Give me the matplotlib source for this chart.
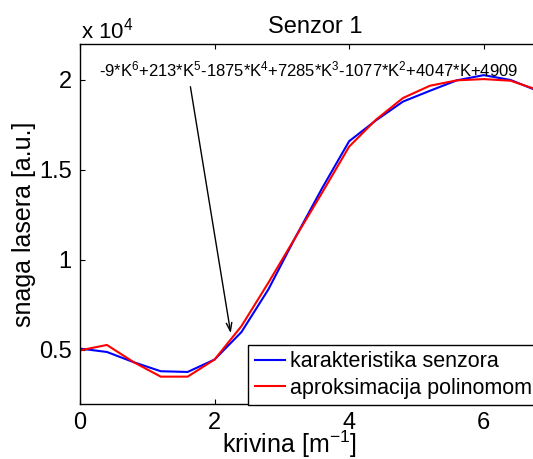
import numpy as np
import matplotlib
matplotlib.use("Agg")
import matplotlib.pyplot as plt
from matplotlib.ticker import FuncFormatter

plt.rcParams['font.family'] = ['Liberation Sans', 'DejaVu Sans']
plt.rcParams['mathtext.fontset'] = 'custom'
plt.rcParams['mathtext.rm'] = 'Liberation Sans'
plt.rcParams['mathtext.it'] = 'Liberation Sans'
plt.rcParams['mathtext.bf'] = 'Liberation Sans'

# krivina [1/m]
krivina = [0.0, 0.4, 0.8, 1.2, 1.6, 2.0, 2.4, 2.8, 3.2, 3.6,
           4.0, 4.4, 4.8, 5.2, 5.6, 6.0, 6.4, 6.8]
# izmjerena karakteristika
senzor = [5080, 4890, 4320, 3820, 3780, 4470, 6000, 8370, 11250, 14000,
          16600, 17760, 18800, 19400, 19980, 20270, 20000, 19400]
# polinom 6. reda
polinom = [4980, 5280, 4320, 3520, 3520, 4470, 6330, 8740, 11250, 13750,
           16300, 17800, 19000, 19680, 19980, 20050, 19960, 19450]

jednadzba = ("-9*K$^6$+213*K$^5$-1875*K$^4$+7285*K$^3$"
             "-1077*K$^2$+4047*K+4909")

fig = plt.figure(figsize=(5.33, 4.59), dpi=100)
ax = fig.add_axes([80/533, 55/459, 471/533, 360/459])

ax.plot(krivina, senzor, color='#0000ff', lw=1.5, label='karakteristika senzora')
ax.plot(krivina, polinom, color='#ff0000', lw=1.5, label='aproksimacija polinomom')

ax.set_xlim(0, 7)
ax.set_ylim(2000, 22000)
ax.set_xticks([0, 2, 4, 6])
ax.set_yticks([5000, 10000, 15000, 20000])
ax.yaxis.set_major_formatter(FuncFormatter(lambda v, p: '%g' % (v / 1e4)))
ax.tick_params(direction='in', length=3.5, width=0.8, labelsize=17,
               top=True, right=True, pad=6)
for s in ax.spines.values():
    s.set_linewidth(1.0)

ax.set_title('Senzor 1', fontsize=17, pad=8)
ax.set_ylabel('snaga lasera [a.u.]', fontsize=18, labelpad=2)
fig.text(289/533, 1 - 453/459, 'krivina [m$^{-1}$]', fontsize=18,
         ha='center', va='baseline')
fig.text(81/533, 1 - 38/459, 'x 10$^4$', fontsize=16, ha='left', va='baseline')

ax.text(3.40, 20600, jednadzba, fontsize=12, ha='center', va='center')
ax.annotate('', xy=(2.247, 5780), xytext=(1.634, 19780),
            arrowprops=dict(arrowstyle='->,head_length=0.6,head_width=0.2',
                            color='black', lw=1.0))

leg = ax.legend(loc='upper left', bbox_to_anchor=(0.357, 0.164),
                borderaxespad=0, fontsize=15.5, handlelength=1.4,
                handletextpad=0.25, borderpad=0.3, labelspacing=0.25,
                fancybox=False, edgecolor='black', framealpha=1)
leg.get_frame().set_linewidth(1.0)

fig.savefig('out.png', dpi=100)
